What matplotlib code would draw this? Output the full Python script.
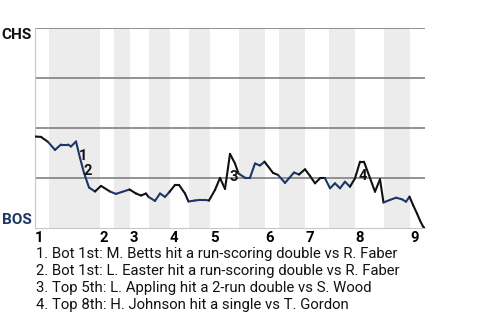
import numpy as np
import matplotlib
matplotlib.use('Agg')
import matplotlib.pyplot as plt
from matplotlib.transforms import offset_copy

plt.rcParams['font.family'] = ['Roboto', 'DejaVu Sans']

# win probability for CHS (1 = CHS, 0 = BOS), x in plate appearances
pa = [0, 1.2, 2.6, 4.0, 5.2, 6.6, 7.2, 8.2, 9.0, 9.8, 10.8, 12.0,
      13.2, 15.0, 16.2, 17.4, 18.9, 20.2, 21.2, 22.2, 22.7, 24.0, 25.0, 26.0,
      26.9, 28.0, 28.8, 30.0, 30.7, 32.0, 33.0, 34.0, 34.8, 36.0, 37.0, 38.0,
      39.0, 40.0, 40.7, 42.0, 43.0, 44.0, 45.0, 45.9, 47.6, 48.6, 50.0, 51.8,
      52.8, 54.0, 55.0, 56.0, 57.0, 58.0, 59.0, 60.0, 61.0, 62.0, 63.0, 64.0,
      65.0, 65.8, 68.0, 69.0, 69.7, 71.0, 72.2, 73.4, 74.2, 74.9, 75.6, 76.4,
      77.0, 77.6, 78.0]
win_prob = [0.459, 0.457, 0.432, 0.392, 0.419, 0.419, 0.409, 0.434, 0.352, 0.277, 0.204, 0.184,
            0.212, 0.184, 0.172, 0.182, 0.194, 0.174, 0.164, 0.174, 0.157, 0.137, 0.174, 0.157,
            0.182, 0.217, 0.217, 0.174, 0.134, 0.139, 0.142, 0.142, 0.139, 0.192, 0.252, 0.197,
            0.372, 0.324, 0.274, 0.253, 0.253, 0.324, 0.314, 0.333, 0.277, 0.267, 0.227, 0.279,
            0.269, 0.295, 0.262, 0.225, 0.250, 0.250, 0.200, 0.225, 0.200, 0.233, 0.208, 0.250,
            0.333, 0.333, 0.183, 0.245, 0.129, 0.142, 0.153, 0.145, 0.133, 0.158, 0.117, 0.074,
            0.039, 0.009, 0.0]

inning_start = [0, 13, 19, 27, 35, 46, 54, 64, 75]
bottom_start = [2.8, 15.8, 22.8, 30.8, 40.8, 48.8, 58.8, 69.8]
innings = ['1', '2', '3', '4', '5', '6', '7', '8', '9']
game_end = 78

# big plays: index of the event in the series
play_idx = [8, 9, 36, 60]
play_text = [
    '1. Bot 1st: M. Betts hit a run-scoring double vs R. Faber',
    '2. Bot 1st: L. Easter hit a run-scoring double vs R. Faber',
    '3. Top 5th: L. Appling hit a 2-run double vs S. Wood',
    '4. Top 8th: H. Johnson hit a single vs T. Gordon',
]

NAVY = '#1c3766'
DARK = '#111111'

fig = plt.figure(figsize=(4.8, 3.2), dpi=100)
ax = fig.add_axes([35 / 480, 1 - 228.3 / 320, 390 / 480, 200 / 320])

# shaded bottom halves
for i, b in enumerate(bottom_start):
    ax.axvspan(b, inning_start[i + 1], color='#ececec', lw=0, zorder=0)

for yy in [0.25, 0.5, 0.75, 1.0]:
    ax.axhline(yy, color='#808080', lw=1.2, zorder=1)


def half_of(x):
    # True if x falls in a bottom half-inning
    for i, b in enumerate(bottom_start):
        if b <= x < inning_start[i + 1]:
            return True
    return False


for i in range(1, len(pa)):
    c = NAVY if half_of(pa[i]) else DARK
    ax.plot(pa[i - 1:i + 1], win_prob[i - 1:i + 1], color=c, lw=1.5,
            solid_capstyle='round', zorder=3)

for n, idx in enumerate(play_idx):
    mid = (win_prob[idx - 1] + win_prob[idx]) / 2
    tr = offset_copy(ax.transData, fig=fig, x=-1, y=1, units='dots')
    ax.text(pa[idx], mid, str(n + 1), fontsize=10.5, fontweight='bold',
            color=DARK, ha='left', va='top', transform=tr, zorder=4)

ax.set_xlim(0, game_end)
ax.set_ylim(0, 1)
ax.set_yticks([])
ax.set_xticks(inning_start)
ax.set_xticklabels(innings, fontsize=10.7, fontweight='bold', ha='left')
ax.tick_params(axis='x', length=0, pad=2)
for s in ['top', 'right']:
    ax.spines[s].set_visible(False)
ax.spines['left'].set_color('#c8c8c8')
ax.spines['bottom'].set_color('#c8c8c8')

ax.text(-0.008, 0.965, 'CHS', transform=ax.transAxes, ha='right', va='center',
        fontsize=11, fontweight='bold', color=DARK)
ax.text(-0.008, 0.04, 'BOS', transform=ax.transAxes, ha='right', va='center',
        fontsize=11, fontweight='bold', color=NAVY)

for n, t in enumerate(play_text):
    fig.text(36 / 480, 1 - (254 + 17 * n) / 320, t, fontsize=10.7,
             ha='left', va='center', color='#111111')

fig.savefig('out.png', dpi=100)
